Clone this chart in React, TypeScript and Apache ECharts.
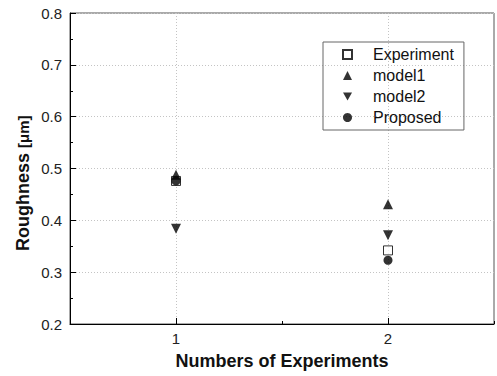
import React, { useEffect, useRef } from "react";
import * as echarts from "echarts";

const categories = ["1", "2"];
const experiment = [0.476, 0.342];
const model1 = [0.488, 0.431];
const model2 = [0.384, 0.371];
const proposed = [0.476, 0.323];
const yTicks = { min: 0.2, max: 0.8, interval: 0.1 };

const FONT = "'Liberation Sans', Arial, sans-serif";
const DOWN_TRI = "path://M0,0L10,0L5,9Z";

export default function App() {
  const ref = useRef<HTMLDivElement>(null);
  useEffect(() => {
    if (!ref.current) return;
    const chart = echarts.init(ref.current, undefined, { renderer: "svg" });
    chart.setOption({
      animation: false,
      backgroundColor: "#fff",
      grid: {
        left: 70,
        right: 3,
        top: 13,
        bottom: 52,
        show: true,
        borderColor: "#555",
        borderWidth: 1,
        backgroundColor: "transparent",
      },
      legend: {
        orient: "vertical",
        left: 323,
        top: 42,
        padding: [2, 10, 2, 19],
        itemWidth: 9,
        itemHeight: 9,
        itemGap: 0,
        borderColor: "#666",
        borderWidth: 1,
        selectedMode: false,
        textStyle: {
          fontSize: 16,
          fontFamily: FONT,
          color: "#111",
          lineHeight: 21,
          padding: [0, 0, 0, 16],
        },
        data: ["Experiment", "model1", "model2", "Proposed"],
      },
      xAxis: [
        {
          type: "category",
          data: categories,
          boundaryGap: true,
          name: "Numbers of Experiments",
          nameLocation: "middle",
          nameGap: 28,
          nameTextStyle: { fontSize: 18, fontWeight: "bold", fontFamily: FONT, color: "#111" },
          axisLine: { show: true, lineStyle: { color: "#000", width: 1 } },
          axisTick: { show: true, inside: true, alignWithLabel: true, length: 6, lineStyle: { color: "#000" } },
          axisLabel: { fontSize: 15, fontFamily: FONT, color: "#222", margin: 7 },
          splitLine: {
            show: true,
            alignWithLabel: true,
            lineStyle: { color: "#c4c4c4", type: [1, 2], width: 1 },
          },
        },
        {
          type: "category",
          data: categories,
          boundaryGap: true,
          position: "bottom",
          axisLine: { show: false },
          axisTick: { show: true, inside: true, alignWithLabel: false, length: 3, lineStyle: { color: "#000" } },
          axisLabel: { show: false },
          splitLine: { show: false },
        },
      ],
      yAxis: {
        type: "value",
        min: yTicks.min,
        max: yTicks.max,
        interval: yTicks.interval,
        axisLine: { show: true, lineStyle: { color: "#000", width: 1 } },
        axisTick: { show: true, inside: true, length: 6, lineStyle: { color: "#000" } },
        minorTick: { show: true, splitNumber: 2, length: 3, lineStyle: { color: "#000" } },
        axisLabel: {
          fontSize: 15,
          fontFamily: FONT,
          color: "#222",
          margin: 8,
          formatter: (v: number) => v.toFixed(1),
        },
        splitLine: { show: true, lineStyle: { color: "#c4c4c4", type: [1, 2], width: 1 } },
      },
      graphic: [
        {
          type: "text",
          x: 23,
          y: 251,
          rotation: Math.PI / 2,
          style: {
            text: "{b|Roughness }{s|[μm]}",
            rich: {
              b: { fontSize: 18, fontWeight: "bold", fontFamily: FONT, fill: "#111" },
              s: { fontSize: 15, fontWeight: "bold", fontFamily: FONT, fill: "#111" },
            },
            align: "left",
            verticalAlign: "middle",
          },
        },
      ],
      series: [
        {
          name: "Experiment",
          type: "scatter",
          symbol: "rect",
          symbolSize: 9,
          itemStyle: { color: "#fff", borderColor: "#000", borderWidth: 1 },
          data: experiment,
          z: 2,
        },
        {
          name: "model1",
          type: "scatter",
          symbol: "triangle",
          symbolSize: 10,
          itemStyle: { color: "#000" },
          data: model1,
          z: 5,
        },
        {
          name: "model2",
          type: "scatter",
          symbol: DOWN_TRI,
          symbolSize: 10,
          itemStyle: { color: "#000" },
          data: model2,
          z: 3,
        },
        {
          name: "Proposed",
          type: "scatter",
          symbol: "circle",
          symbolSize: 9,
          itemStyle: { color: "#000" },
          data: proposed,
          z: 4,
        },
      ],
    });
    return () => chart.dispose();
  }, []);
  return <div ref={ref} style={{ width: 497, height: 376, position: "absolute", left: 0, top: 0 }} />;
}
